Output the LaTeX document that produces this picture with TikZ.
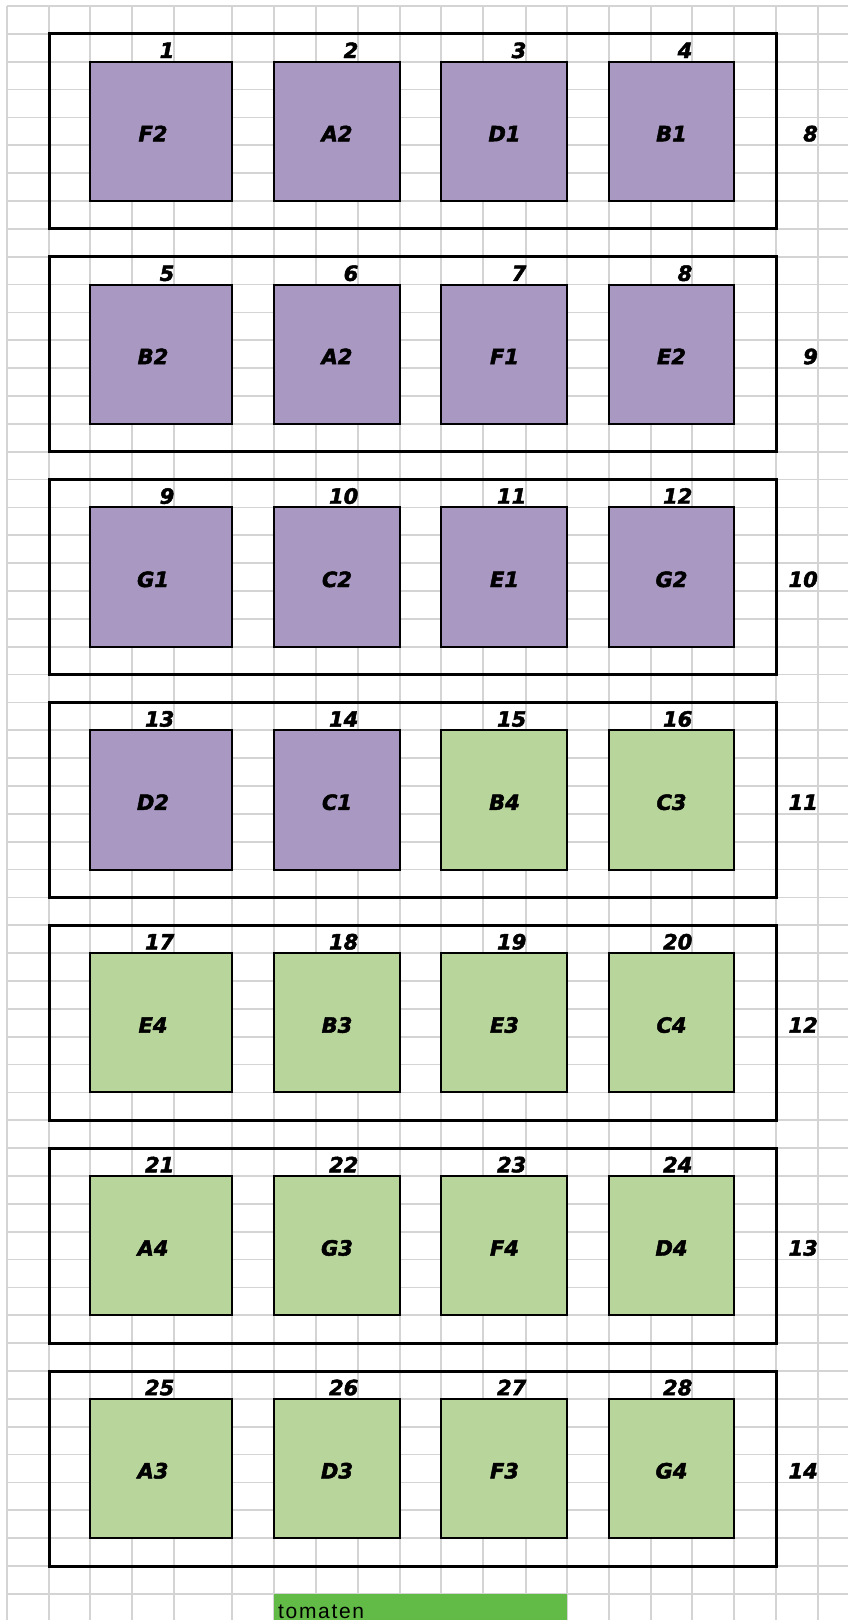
\documentclass[tikz,border=0pt]{standalone}
\usepackage{fontspec}
\newfontfamily\labfont{DejaVu Sans Bold Oblique}[FakeBold=2.2]
\newfontfamily\tomfont{Liberation Sans}[LetterSpace=8]
\definecolor{gridgray}{HTML}{D4D4D4}
\definecolor{lavfill}{HTML}{A898C2}
\definecolor{lgreen}{HTML}{B8D59B}
\definecolor{tomgreen}{HTML}{62BB46}
\def\XL{{7,49,90,132,174,232,274,316,358,400,441,483,526,567,609,651,692,734,776,818}}
\tikzset{
  gridline/.style={draw=gridgray,line width=1.6pt},
  plotbox/.style={draw=black,line width=3pt},
  sqbox/.style={draw=black,line width=2pt},
  lab/.style={font=\labfont\fontsize{21}{24}\selectfont,inner sep=0pt},
  tomlab/.style={font=\tomfont\fontsize{21}{24}\selectfont,inner sep=0pt}
}
\begin{document}
\begin{tikzpicture}[x=1pt,y=-1pt]
\useasboundingbox (0,0) rectangle (848,1620);
\clip (0,0) rectangle (848,1620);
\fill[white] (0,0) rectangle (848,1620);
% spreadsheet grid
\foreach \k in {0,...,58}{
  \pgfmathsetmacro\yy{6+27.857*\k}
  \draw[gridline] (7,\yy) -- (848,\yy);
}
\foreach \i in {0,...,19}{
  \pgfmathsetmacro\xx{\XL[\i]}
  \draw[gridline] (\xx,6) -- (\xx,1620);
}
% blocks
\foreach \b/\na/\nb/\nc/\nd in {0/F2/A2/D1/B1,1/B2/A2/F1/E2,2/G1/C2/E1/G2,3/D2/C1/B4/C3,4/E4/B3/E3/C4,5/A4/G3/F4/D4,6/A3/D3/F3/G4}{
  \pgfmathsetmacro\ot{6+27.857*(1+8*\b)}
  \pgfmathsetmacro\st{6+27.857*(2+8*\b)}
  \pgfmathsetmacro\sb{6+27.857*(7+8*\b)}
  \pgfmathsetmacro\ob{6+27.857*(8+8*\b)}
  \pgfmathsetmacro\lb{6+27.857*(5+8*\b)-4}
  \pgfmathtruncatemacro\rl{8+\b}
  \draw[plotbox] (49,\ot) rectangle (776,\ob);
  \node[lab,anchor=base east] (row\b) at (818,\lb) {\rl};
  \foreach \j/\nm in {0/\na,1/\nb,2/\nc,3/\nd}{
    \pgfmathtruncatemacro\n{4*\b+\j+1}
    \pgfmathsetmacro\sl{\XL[2+4*\j]}
    \pgfmathsetmacro\sr{\XL[5+4*\j]}
    \pgfmathsetmacro\ml{\XL[3+4*\j]}
    \pgfmathsetmacro\mr{\XL[4+4*\j]}
    \ifnum\n<15 \def\col{lavfill}\else\def\col{lgreen}\fi
    \filldraw[sqbox,fill=\col] (\sl,\st) rectangle (\sr,\sb);
    \node[lab,anchor=base east] (num\n) at (\mr+0.5,\st-3.7) {\n};
    \node[lab,anchor=base] (lab\n) at ({(\ml+\mr)/2},\lb) {\nm};
  }
}
% legend cell
\fill[tomgreen] (274,1594) rectangle (567,1625);
\node[tomlab,anchor=base west] (tomaten) at (278,1618) {tomaten};
\end{tikzpicture}
\end{document}
